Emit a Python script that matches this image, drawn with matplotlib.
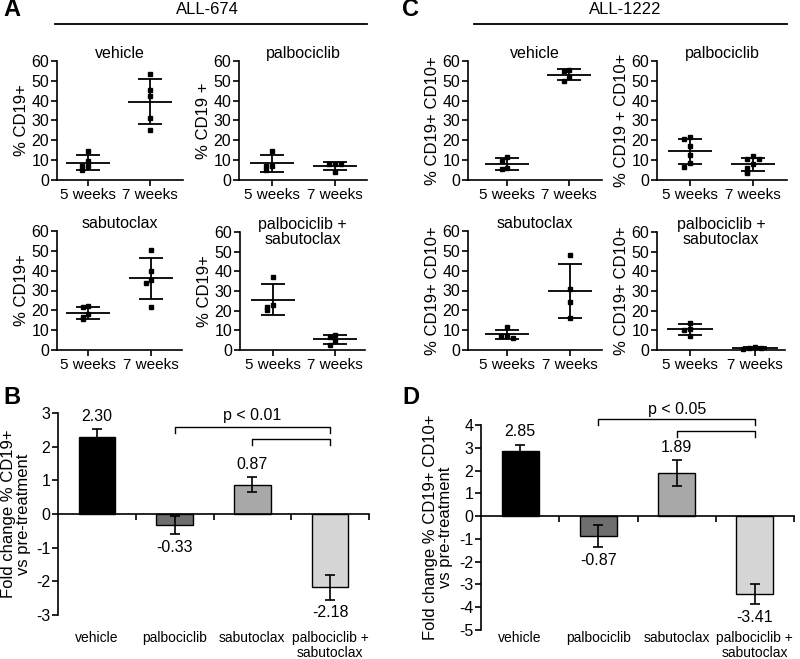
import matplotlib
matplotlib.use("Agg")
import matplotlib.pyplot as plt
from matplotlib.lines import Line2D
from matplotlib.transforms import blended_transform_factory

plt.rcParams["font.family"] = ["Liberation Sans", "DejaVu Sans"]
plt.rcParams["axes.unicode_minus"] = False

W, H = 800, 659

# ── Data: % CD19+ per mouse (ALL-674) ───────────────────
weeks = ["5 weeks", "7 weeks"]
a_vehicle = [[14.8, 9.5, 7.2, 7.0, 5.0], [53.4, 45.2, 42.4, 31.1, 25.2]]
a_palbo = [[14.6, 7.2, 7.0, 5.0], [8.2, 8.2, 8.0, 4.0]]
a_sabu = [[22.2, 21.5, 18.0, 16.8, 15.5], [50.4, 39.7, 35.3, 33.6, 21.8]]
a_combo = [[37.3, 22.8, 21.9, 20.5], [7.7, 6.8, 4.4, 2.6]]

# ── Data: % CD19+ CD10+ per mouse (ALL-1222) ────────────
c_vehicle = [[11.6, 9.6, 5.9, 5.5], [55.5, 55.0, 52.1, 50.0]]
c_palbo = [[21.5, 20.5, 17.1, 12.6, 8.4, 6.6], [12.3, 10.4, 10.4, 8.1, 5.9, 4.2, 3.7]]
c_sabu = [[11.4, 7.2, 7.1, 5.9], [47.9, 30.6, 24.0, 16.0]]
c_combo = [[13.6, 10.8, 10.0, 7.3], [1.4, 1.1, 0.9, 0.7]]

# ── Data: fold change vs pre-treatment ──────────────────
groups = ["vehicle", "palbociclib", "sabutoclax", "palbociclib +\nsabutoclax"]
b_fold = [2.30, -0.33, 0.87, -2.18]
b_err = [0.21, 0.27, 0.22, 0.36]
d_fold = [2.85, -0.87, 1.89, -3.41]
d_err = [0.29, 0.50, 0.56, 0.45]
bar_colors = ["#000000", "#6e6e6e", "#a8a8a8", "#d6d6d6"]

fig = plt.figure(figsize=(W / 100, H / 100), dpi=100)


def rect(l, r, t, b):
    return [l / W, 1 - b / H, (r - l) / W, (b - t) / H]


def spread(vals, gap=2.2, step=0.09):
    # GraphPad-style horizontal spreading of overlapping dots
    offs = []
    for i, v in enumerate(vals):
        n = sum(1 for u in vals[:i] if abs(u - v) < gap)
        k = (n + 1) // 2
        offs.append(step * k * (-1 if n % 2 else 1))
    return offs


def style_axis(ax, size=11.5):
    for s in ["top", "right"]:
        ax.spines[s].set_visible(False)
    for s in ["left", "bottom"]:
        ax.spines[s].set_linewidth(1.2)
    ax.tick_params(direction="out", length=4, width=1.2, labelsize=size, pad=1.5)


def scatter_panel(box, xlim, title, ylabel, series):
    ax = fig.add_axes(rect(*box))
    for i, vals in enumerate(series):
        x = i + 1
        n = len(vals)
        m = sum(vals) / n
        sd = (sum((v - m) ** 2 for v in vals) / (n - 1)) ** 0.5
        ax.plot([x + o for o in spread(vals)], vals, "s", color="black", ms=2.6,
                clip_on=False, zorder=3)
        ax.hlines(m, x - 0.35, x + 0.35, color="black", lw=1.3)
        ax.hlines([m - sd, m + sd], x - 0.19, x + 0.19, color="black", lw=1.3)
        ax.vlines(x, m - sd, m + sd, color="black", lw=1.3)
    ax.set_xlim(*xlim)
    ax.set_ylim(0, 60)
    ax.set_yticks(range(0, 61, 10))
    ax.set_xticks([1, 2])
    ax.set_xticklabels(weeks)
    style_axis(ax)
    ax.tick_params(axis="x", labelsize=11)
    ax.set_ylabel(ylabel, fontsize=12, labelpad=2)
    if "\n" in title:
        ax.text(0.5, 1.0, title, transform=ax.transAxes, ha="center", va="center",
                fontsize=11.5, linespacing=1.05)
    else:
        ax.text(0.5, 1.067, title, transform=ax.transAxes, ha="center", va="center",
                fontsize=11.5)
    return ax


def bar_panel(box, vals, errs, ylim, ylabel, ptext, top_y, low_y, ptext_y, tick_len):
    ax = fig.add_axes(rect(*box))
    x = range(len(vals))
    ax.bar(x, vals, width=0.47, color=bar_colors, edgecolor="black", linewidth=1)
    ax.errorbar(x, vals, yerr=errs, fmt="none", ecolor="black", elinewidth=1.2,
                capsize=3.5, capthick=1.2)
    for i, (v, e) in enumerate(zip(vals, errs)):
        if v >= 0:
            ax.annotate(f"{v:.2f}", xy=(i, v + e), xytext=(0, 4), textcoords="offset points",
                        ha="center", va="bottom", fontsize=11.5)
        else:
            ax.annotate(f"{v:.2f}", xy=(i, v - e), xytext=(0, -4), textcoords="offset points",
                        ha="center", va="top", fontsize=11.5)
    ax.set_xlim(-0.5, 3.5)
    ax.set_ylim(*ylim)
    ax.set_yticks(range(ylim[0], ylim[1] + 1))
    style_axis(ax)
    ax.spines["bottom"].set_position(("data", 0))
    ax.set_xticks([0.5, 1.5, 2.5, 3.5])
    ax.set_xticklabels([])
    ax.set_ylabel(ylabel, fontsize=12, labelpad=4, linespacing=1.0)
    trans = blended_transform_factory(ax.transData, fig.transFigure)
    for i, g in enumerate(groups):
        ax.text(i, 1 - 631 / H, g, transform=trans, ha="center", va="top",
                fontsize=10, linespacing=1.05)
    # significance brackets
    for x0, y0 in [(1, top_y), (2, low_y)]:
        ax.plot([x0, x0, 3, 3], [y0 - tick_len, y0, y0, y0 - tick_len], color="black",
                lw=1, clip_on=False)
    ax.text(2, ptext_y, ptext, ha="center", va="center", fontsize=11.5, clip_on=False)
    return ax


# ── Panel A ──────────────────────────────────────────────
scatter_panel((57, 183, 61, 180), (0.5, 2.53), "vehicle", "% CD19+", a_vehicle)
scatter_panel((239, 367, 61, 180), (0.476, 2.51), "palbociclib", "% CD19 +", a_palbo)
scatter_panel((57, 182, 231, 350), (0.5, 2.49), "sabutoclax", "% CD19+", a_sabu)
scatter_panel((240, 365, 232, 350), (0.47, 2.48), "palbociclib +\nsabutoclax", "% CD19+", a_combo)

# ── Panel C ──────────────────────────────────────────────
scatter_panel((468, 602, 61, 180), (0.37, 2.53), "vehicle", "% CD19+ CD10+", c_vehicle)
scatter_panel((657, 787, 61, 180), (0.476, 2.54), "palbociclib", "% CD19 + CD10+", c_palbo)
scatter_panel((468, 602, 231, 350), (0.38, 2.51), "sabutoclax", "% CD19+ CD10+", c_sabu)
scatter_panel((657, 785, 232, 350), (0.49, 2.46), "palbociclib +\nsabutoclax", "% CD19+ CD10+", c_combo)

# ── Panels B and D ───────────────────────────────────────
bar_panel((58, 369, 413, 615), b_fold, b_err, (-3, 3),
          "Fold change % CD19+\nvs pre-treatment", "p < 0.01", 2.58, 2.23, 2.94, 0.18)
bar_panel((481, 794, 425, 630), d_fold, d_err, (-5, 4),
          "Fold change % CD19+ CD10+\nvs pre-treatment", "p < 0.05", 4.25, 3.73, 4.69, 0.27)

# ── Headers and panel letters ────────────────────────────
for txt, xc, x0, x1 in [("ALL-674", 207, 55, 367), ("ALL-1222", 625, 474, 787)]:
    fig.text(xc / W, 1 - 10 / H, txt, ha="center", va="center", fontsize=12)
    fig.add_artist(Line2D([x0 / W, x1 / W], [1 - 24 / H] * 2, color="black", lw=1.3))

for letter, x, y in [("A", 3, 10), ("C", 402, 10), ("B", 3, 397), ("D", 402, 397)]:
    fig.text(x / W, 1 - y / H, letter, fontsize=17, fontweight="bold", va="center")

fig.savefig("out.png", dpi=100)
